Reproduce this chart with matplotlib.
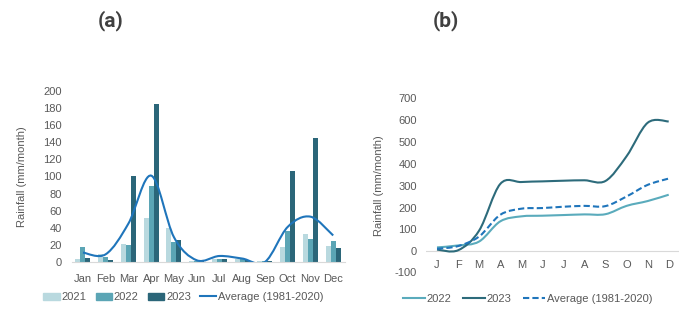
import matplotlib
matplotlib.use("Agg")
import matplotlib.pyplot as plt
import numpy as np
from matplotlib.path import Path
from matplotlib.patches import PathPatch, Patch
from matplotlib.lines import Line2D

plt.rcParams['font.family'] = ['Liberation Sans', 'DejaVu Sans']

# Data - panel (a) monthly rainfall
months = ['Jan', 'Feb', 'Mar', 'Apr', 'May', 'Jun', 'Jul', 'Aug', 'Sep', 'Oct', 'Nov', 'Dec']
rain_2021 = [3, 9, 21, 52, 40, 1, 4, 3, 1, 18, 33, 19]
rain_2022 = [18, 6, 20, 89, 23, 1, 4, 3, 1, 36, 27, 24]
rain_2023 = [5, 2, 100, 185, 26, 2, 3, 2, 1, 107, 145, 16]
rain_avg = [11, 9, 45, 101, 29, 2, 7, 4, 0, 41, 53, 31]

# Data - panel (b) cumulative rainfall
month_letters = ['J', 'F', 'M', 'A', 'M', 'J', 'J', 'A', 'S', 'O', 'N', 'D']
cum_2022 = [18, 27, 45, 137, 160, 163, 166, 169, 170, 208, 230, 259]
cum_2023 = [8, 5, 95, 308, 317, 320, 323, 325, 322, 435, 588, 594]
cum_avg = [12, 24, 68, 167, 195, 198, 204, 208, 207, 251, 304, 333]
yticks_b = [-100, 0, 100, 200, 300, 400, 500, 600, 700]

c2021 = '#b9d9df'
c2022 = '#5ba5b5'
c2023 = '#2b6679'
cavg = '#1f75bb'
tick_col = '#595959'
fs = 8


def smooth_path(x, y):
    # Excel-style smoothed line: cubic bezier through points
    x = np.asarray(x, float)
    y = np.asarray(y, float)
    pts = np.column_stack([x, y])
    verts = [pts[0]]
    codes = [Path.MOVETO]
    n = len(pts)
    for i in range(n - 1):
        p0 = pts[i - 1] if i > 0 else pts[i]
        p3 = pts[i + 2] if i + 2 < n else pts[i + 1]
        c1 = pts[i] + (pts[i + 1] - p0) / 6
        c2 = pts[i + 1] - (p3 - pts[i]) / 6
        verts += [c1, c2, pts[i + 1]]
        codes += [Path.CURVE4] * 3
    return Path(verts, codes)


fig = plt.figure(figsize=(6.85, 3.16), dpi=100)

# ---- panel (a)
ax1 = fig.add_axes([0.1045, 0.171, 0.3985, 0.541])
x = np.arange(len(months))
w = 0.22
ax1.bar(x - w, rain_2021, w, color=c2021)
ax1.bar(x, rain_2022, w, color=c2022)
ax1.bar(x + w, rain_2023, w, color=c2023)
ax1.add_patch(PathPatch(smooth_path(x, rain_avg), fill=False, edgecolor=cavg, lw=1.5))
ax1.set_xlim(-0.5, 11.5)
ax1.set_ylim(0, 200)
ax1.set_yticks(range(0, 201, 20))
ax1.set_xticks(x)
ax1.set_xticklabels(months)
ax1.set_ylabel('Rainfall (mm/month)', fontsize=fs, color=tick_col, labelpad=12)
for s in ['top', 'right', 'left']:
    ax1.spines[s].set_visible(False)
ax1.spines['bottom'].set_color('#d9d9d9')
ax1.tick_params(length=0, labelsize=fs, colors=tick_col)
ax1.tick_params(axis='y', pad=7)
ax1.tick_params(axis='x', pad=9)
handles = [Patch(color=c2021, label='2021'), Patch(color=c2022, label='2022'),
           Patch(color=c2023, label='2023'),
           Line2D([], [], color=cavg, lw=1.5, label='Average (1981-2020)')]
leg = ax1.legend(handles=handles, loc='center', bbox_to_anchor=(0.41, -0.205), ncol=4,
                 frameon=False, fontsize=fs, handlelength=1.5, handleheight=0.6,
                 handletextpad=0.15, columnspacing=0.8)
for t in leg.get_texts():
    t.set_color(tick_col)
fig.text(0.161, 0.935, '(a)', fontsize=15, fontweight='bold', color='#404040',
         ha='center', va='center', family=['Roboto', 'DejaVu Sans'])

# ---- panel (b)
ax2 = fig.add_axes([0.6226, 0.134, 0.369, 0.555])
ax2.axhline(0, color='#d9d9d9', lw=0.8, zorder=0)
ax2.add_patch(PathPatch(smooth_path(x, cum_2022), fill=False, edgecolor='#5aabbc', lw=1.5))
ax2.add_patch(PathPatch(smooth_path(x, cum_2023), fill=False, edgecolor='#2d6b7b', lw=1.5))
ax2.add_patch(PathPatch(smooth_path(x, cum_avg), fill=False, edgecolor=cavg, lw=1.5,
                        linestyle=(0, (3, 1.5))))
ax2.set_xlim(-0.5, 11.5)
ax2.set_ylim(-102, 700)
ax2.set_yticks(yticks_b)
ax2.set_yticklabels(['' if v < 0 else str(v) for v in yticks_b])
# negative tick label drawn as its own text
for v in yticks_b:
    if v < 0:
        ax2.annotate(str(v), (0, v), xycoords=ax2.get_yaxis_transform(),
                     xytext=(-7, 0), textcoords='offset points', ha='right',
                     va='center', fontsize=fs, color=tick_col, annotation_clip=False)
ax2.set_xticks([])
# month letters sit just under the zero line
for i, lab in enumerate(month_letters):
    ax2.annotate(lab, (i, 0), xytext=(0, -6), textcoords='offset points',
                 ha='center', va='top', fontsize=fs, color=tick_col)
ax2.set_ylabel('Rainfall (mm/month)', fontsize=fs, color=tick_col, labelpad=10)
for s in ['top', 'right', 'left', 'bottom']:
    ax2.spines[s].set_visible(False)
ax2.tick_params(length=0, labelsize=fs, colors=tick_col)
ax2.tick_params(axis='y', pad=7)
handles2 = [Line2D([], [], color='#5aabbc', lw=1.5, label='2022'),
            Line2D([], [], color='#2d6b7b', lw=1.5, label='2023'),
            Line2D([], [], color=cavg, lw=1.5, ls=(0, (3, 1.5)), label='Average (1981-2020)')]
leg2 = ax2.legend(handles=handles2, loc='center', bbox_to_anchor=(0.40, -0.145), ncol=3,
                  frameon=False, fontsize=fs, handlelength=2.0, handletextpad=0.15,
                  columnspacing=1.0)
for t in leg2.get_texts():
    t.set_color(tick_col)
fig.text(0.651, 0.935, '(b)', fontsize=15, fontweight='bold', color='#404040',
         ha='center', va='center', family=['Roboto', 'DejaVu Sans'])

fig.savefig('out.png', dpi=100)
